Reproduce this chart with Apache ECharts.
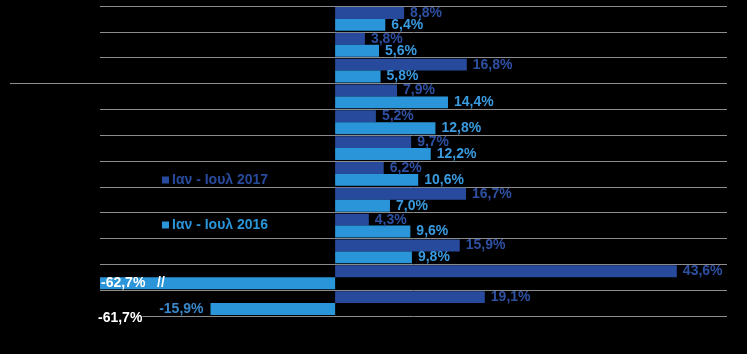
<!DOCTYPE html>
<html><head><meta charset="utf-8">
<script src="https://cdn.jsdelivr.net/npm/echarts@6/dist/echarts.min.js"></script>
<style>html,body{margin:0;padding:0;background:#000}#c{width:747px;height:354px}</style>
</head><body><div id="c"></div>
<script>
// Data (top row first)
const categories = ['Κ1','Κ2','Κ3','Κ4','Κ5','Κ6','Κ7','Κ8','Κ9','Κ10','Κ11','Κ12'];
const seriesNames = ['Ιαν - Ιουλ 2017', 'Ιαν - Ιουλ 2016'];
const values2017 = [8.8, 3.8, 16.8, 7.9, 5.2, 9.7, 6.2, 16.7, 4.3, 15.9, 43.6, 19.1];
const values2016 = [6.4, 5.6, 5.8, 14.4, 12.8, 12.2, 10.6, 7.0, 9.6, 9.8, -62.7, -15.9];
const axisRange = [-30, 50];
const noteTexts = ['-61,7%'];

const C17 = '#284a9c', C16 = '#2a95d8';
const fmt = v => v.toFixed(1).replace('.', ',') + '%';
const FONT = '"Liberation Sans", Arial, sans-serif';

const chart = echarts.init(document.getElementById('c'), null, {renderer: 'canvas'});

const data2016 = values2016.map(v => {
  if (v < axisRange[0]) {
    return {value: axisRange[0], label: {position: 'insideLeft', distance: 1, color: '#ffffff'}};
  }
  if (v < 0) {
    return {value: v, label: {position: 'left', distance: 7, color: '#3a88cc'}};
  }
  return v;
});

chart.setOption({
  backgroundColor: '#000',
  animation: false,
  grid: {left: 100, right: 20, top: 6, bottom: 38, containLabel: false},
  xAxis: {
    type: 'value', min: axisRange[0], max: axisRange[1],
    axisLine: {show: false}, axisTick: {show: false}, axisLabel: {show: false}, splitLine: {show: false}
  },
  yAxis: {
    type: 'category', data: categories, inverse: true,
    axisLine: {show: false}, axisTick: {show: false}, axisLabel: {show: false},
    splitLine: {show: true, lineStyle: {color: '#8c8c8c', width: 1}}
  },
  legend: {
    orient: 'vertical', left: 157, top: 168, itemWidth: 7, itemHeight: 7, itemGap: 31,
    icon: 'rect',
    data: [
      {name: seriesNames[0], textStyle: {color: C17}},
      {name: seriesNames[1], textStyle: {color: C16}}
    ],
    textStyle: {fontFamily: FONT, fontSize: 14, fontWeight: 'bold', padding: [0, 0, 0, -2]}
  },
  series: [
    {
      name: seriesNames[0], type: 'bar', data: values2017,
      barGap: '0%', barCategoryGap: '8%',
      itemStyle: {color: C17},
      label: {show: true, position: 'right', distance: 6, color: '#2e50a3',
        fontFamily: FONT, fontSize: 14, fontWeight: 'bold',
        formatter: p => fmt(values2017[p.dataIndex])}
    },
    {
      name: seriesNames[1], type: 'bar', data: data2016,
      barGap: '0%', barCategoryGap: '8%',
      itemStyle: {color: C16},
      label: {show: true, position: 'right', distance: 6, color: '#3a9be0',
        fontFamily: FONT, fontSize: 14, fontWeight: 'bold',
        formatter: p => {
          const v = values2016[p.dataIndex];
          return v < axisRange[0] ? fmt(v) + '   //' : fmt(v);
        }}
    }
  ],
  graphic: [
    {type: 'line', shape: {x1: 10, y1: 83.5, x2: 100, y2: 83.5}, style: {stroke: '#8c8c8c', lineWidth: 1}},
    {type: 'text', left: 98, top: 311, z: 100,
      style: {text: noteTexts[0], fill: '#ffffff', font: 'bold 14px ' + FONT, backgroundColor: '#000'}}
  ]
});
</script></body></html>
